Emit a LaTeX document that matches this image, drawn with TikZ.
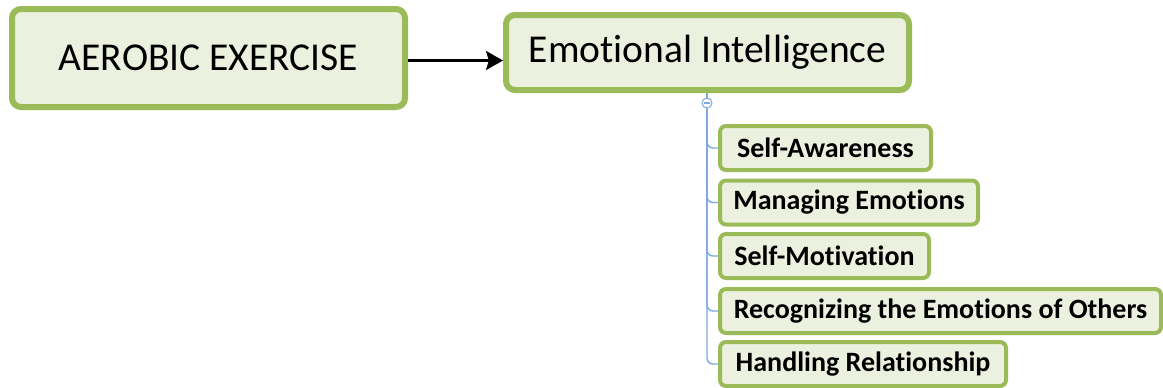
\documentclass[tikz,border=0pt]{standalone}
\usepackage{fontspec}
\setmainfont{Carlito}[RawFeature={-liga;-calt;-dlig;-clig}]
\usetikzlibrary{arrows.meta}
\definecolor{boxgreen}{HTML}{9BBB59}
\definecolor{boxfill}{HTML}{EBF1DE}
\definecolor{treeblue}{HTML}{7FA8E0}
\begin{document}
\begin{tikzpicture}[x=1pt,y=-1pt,
  topbox/.style={draw=boxgreen, fill=boxfill, line width=6pt, rounded corners=9pt,
    font=\fontsize{39.5}{44}\selectfont, inner sep=0pt},
  subbox/.style={draw=boxgreen, fill=boxfill, line width=4pt, rounded corners=6pt,
    font=\bfseries\fontsize{28}{32}\selectfont, inner sep=0pt, minimum height=44pt},
  tree/.style={draw=treeblue, line width=1.4pt, rounded corners=6pt},
  link/.style={line width=3pt, -{Stealth[length=17pt,width=19pt,inset=3pt]}}
]
\useasboundingbox (0,0) rectangle (1163,388);
\node[topbox, minimum width=393pt, minimum height=98pt] (ae) at (208.5,58) {AEROBIC EXERCISE};
\node[topbox, minimum width=403pt, minimum height=75pt] (ei) at (707.5,52.5) {Emotional Intelligence};
\node[subbox, minimum width=211pt] (c1) at (825.5,148) {Self-Awareness};
\node[subbox, minimum width=258pt] (c2) at (849,202.5) {Managing Emotions};
\node[subbox, minimum width=209pt] (c3) at (824.5,256) {Self-Motivation};
\node[subbox, minimum width=441pt] (c4) at (940.5,311) {Recognizing the Emotions of Others};
\node[subbox, minimum width=286pt] (c5) at (863,364) {Handling Relationship};
\node[circle, draw=treeblue, fill=white, line width=1pt, minimum size=10pt, inner sep=0pt] (col) at (707,103) {};
\draw[treeblue, line width=1.2pt] ([xshift=2.5pt]col.west) -- ([xshift=-2.5pt]col.east);
\draw[treeblue, line width=1.2pt] (ei.south -| col) -- (col.north);
\foreach \c in {c1,c2,c3,c4,c5}{
  \draw[tree] (col.south) |- (\c.west);
}
\coordinate (as) at ([yshift=-2.5pt]ae.east);
\draw[link] (as) -- (as -| ei.west);
\end{tikzpicture}
\end{document}
